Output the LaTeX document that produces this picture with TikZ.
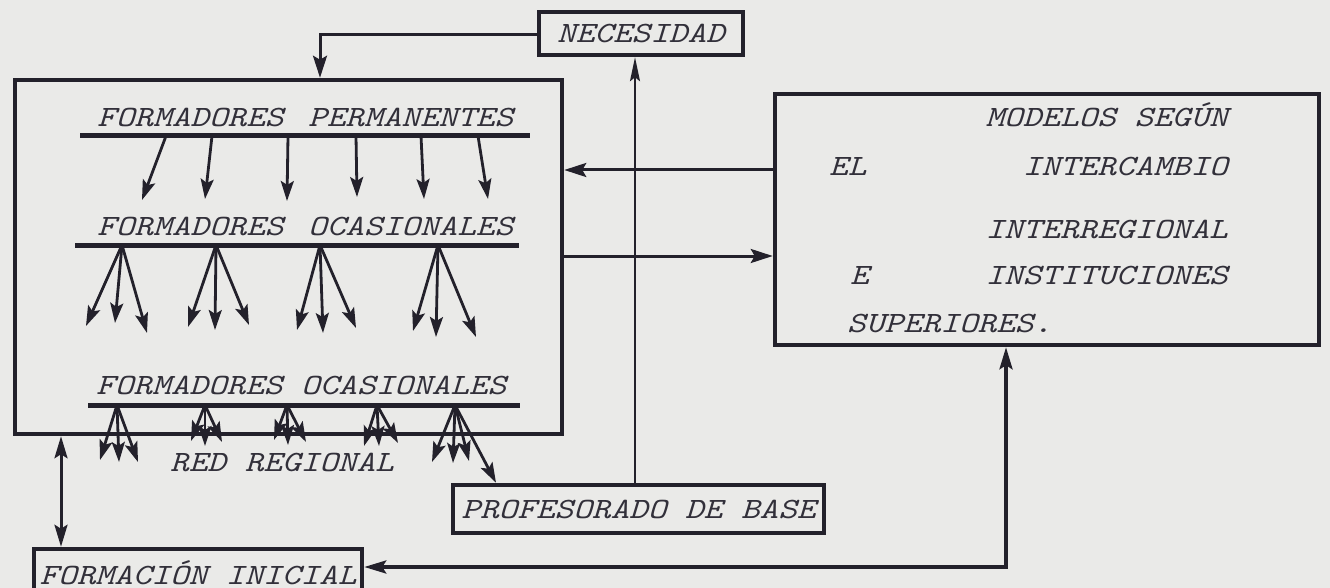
\documentclass[tikz,border=0pt]{standalone}
\usepackage{fontspec}
\usetikzlibrary{arrows.meta,calc}
\definecolor{ink}{RGB}{35,33,43}
\definecolor{txt}{RGB}{50,48,58}
\definecolor{paper}{RGB}{234,234,232}
\newcommand{\tw}[1]{\scalebox{1}[0.83]{\fontsize{35.5}{40}\selectfont\ttfamily\itshape #1}}
\begin{document}
\begin{tikzpicture}[x=1pt,y=-1pt,
  frame/.style={draw=ink,line width=4.5pt,inner sep=0pt,text=txt,text height=18pt,text depth=0pt},
  lbl/.style={text=txt,inner sep=0pt},
  uline/.style={draw=ink,line width=5pt},
  con/.style={draw=ink,line width=3pt,-{Stealth[length=22pt,width=14pt,inset=4pt]}},
  thin/.style={draw=ink,line width=2pt,-{Stealth[length=24pt,width=10pt,inset=4pt]}},
  fan/.style={draw=ink,line width=2.8pt,-{Stealth[length=20pt,width=13pt,inset=4pt]}},
  dbl/.style={draw=ink,{Stealth[length=22pt,width=13pt,inset=4pt]}-{Stealth[length=22pt,width=13pt,inset=4pt]}}]
\fill[paper] (0,0) rectangle (1330,588);
\useasboundingbox (0,0) rectangle (1330,588);
\clip (0,0) rectangle (1330,588);

% boxes
\node[frame,minimum width=204pt,minimum height=43pt] (nec) at (641,33.5) {\tw{NECESIDAD}};
\node[frame,minimum width=547pt,minimum height=354pt] (main) at (288.5,257) {};
\node[frame,minimum width=544pt,minimum height=251pt] (right) at (1047,219.5) {};
\node[frame,minimum width=371pt,minimum height=48pt] (prof) at (638.5,509) {\tw{PROFESORADO DE BASE}};
\node[frame,minimum width=328pt,minimum height=52pt] (form) at (198,575) {\tw{FORMACIÓN INICIAL}};

% texts inside main box
\node[lbl,anchor=base west] (t1) at (97,127) {\tw{FORMADORES\hspace{6pt} PERMANENTES}};
\node[lbl,anchor=base west] (t2) at (97,236) {\tw{FORMADORES\hspace{6pt} OCASIONALES}};
\node[lbl,anchor=base west] (t3) at (96,394) {\tw{FORMADORES OCASIONALES}};
\node[lbl,anchor=base west] (t4) at (170,471) {\tw{RED REGIONAL}};

% texts inside right box
\node[lbl,anchor=base east] (r1) at (1228,127) {\tw{MODELOS SEGÚN}};
\node[lbl,anchor=base west] (r2) at (829,176) {\tw{EL}};
\node[lbl,anchor=base east] (r3) at (1228,176) {\tw{INTERCAMBIO}};
\node[lbl,anchor=base east] (r4) at (1228,238) {\tw{INTERREGIONAL}};
\node[lbl,anchor=base west] (r5) at (850,284) {\tw{E}};
\node[lbl,anchor=base east] (r6) at (1228,284) {\tw{INSTITUCIONES}};
\node[lbl,anchor=base west] (r7) at (847,332) {\tw{SUPERIORES.}};

% underlines
\draw[uline] (80,136) coordinate (u1a) -- (530,136) coordinate (u1b);
\draw[uline] (75,245) coordinate (u2a) -- (519,245) coordinate (u2b);
\draw[uline] (88,405) coordinate (u3a) -- (520,405) coordinate (u3b);

% row 1 arrows
\foreach \a/\b/\c in {166/142/200, 212/205/199, 288/287/201, 356/357/197, 421/424/199, 478/488/199}
  \draw[fan] (\a,136) -- (\b,\c);

% row 2 fans
\foreach \s/\ax/\ay/\bx/\by/\cx/\cy in {122/86/326/115/323/147/333, 216/188/327/215/330/249/325, 320/297/330/323/333/356/328, 438/413/331/436/337/476/337}{
  \draw[fan] (\s,245) -- (\ax,\ay);
  \draw[fan] (\s,245) -- (\bx,\by);
  \draw[fan] (\s,245) -- (\cx,\cy);
}

% row 3 fans
\foreach \s/\ax/\ay/\bx/\by/\cx/\cy in {117/100/460/119/462/138/462, 205/191/441/205/446/222/442, 287/274/440/288/445/306/442, 377/364/446/379/446/398/443, 455/432/462/453/463/469/461}{
  \draw[fan] (\s,405) -- (\ax,\ay);
  \draw[fan] (\s,405) -- (\bx,\by);
  \draw[fan] (\s,405) -- (\cx,\cy);
}
\draw[fan] (455,405) -- (prof.north -| 496,0);

% connectors
\draw[con] (nec.west |- 0,35) -- (320,35) -- (main.north -| 320,0);
\draw[thin] (prof.north -| 635,0) -- (nec.south -| 635,0);
\draw[con] (right.west |- 0,170) -- (main.east |- 0,170);
\draw[con] (main.east |- 0,256) -- (right.west |- 0,256);
\draw[dbl,line width=3pt] (main.south -| 61,0) -- (form.north -| 61,0);
\draw[dbl,line width=3.5pt] (right.south -| 1006,0) -- (1006,567) -- (form.east |- 0,567);
\end{tikzpicture}
\end{document}
